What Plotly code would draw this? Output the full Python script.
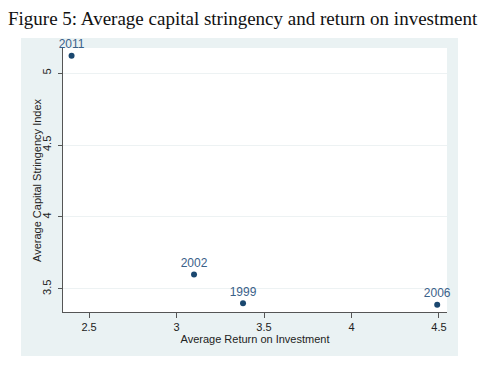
import plotly.graph_objects as go

years = ["2011", "2002", "1999", "2006"]
roi = [2.40, 3.10, 3.38, 4.49]
stringency = [5.12, 3.60, 3.40, 3.39]
x_ticks = [2.5, 3, 3.5, 4, 4.5]
y_ticks = [3.5, 4, 4.5, 5]

# browser default body margin offsets the figure by 8px
OFF = 8
W, H = 488 - OFF, 367 - OFF
L, R, T, B = 63 - OFF, W - (447 - OFF), 48 - OFF, H - (312 - OFF)
pw, ph = W - L - R, H - T - B

def fx(px):
    return (px - OFF - L) / pw

def fy(py):
    return (H - B - (py - OFF)) / ph

fig = go.Figure()
fig.add_trace(go.Scatter(
    x=roi, y=stringency, mode="markers+text", text=years,
    textposition="top center",
    marker=dict(color="#1a476f", size=6),
    textfont=dict(family="Liberation Sans", size=12, color="#3a6189"),
    cliponaxis=False, showlegend=False,
))

fig.add_shape(type="rect", xref="paper", yref="paper",
              x0=fx(21), x1=fx(458), y0=fy(356), y1=fy(38),
              fillcolor="#EAF2F3", line=dict(width=0), layer="below")
fig.add_shape(type="rect", xref="paper", yref="paper",
              x0=0, x1=1, y0=0, y1=1,
              fillcolor="white", line=dict(width=0), layer="below")

fig.add_annotation(text="Figure 5: Average capital stringency and return on investment",
                   xref="paper", yref="paper", x=fx(243), y=fy(18),
                   xanchor="center", yanchor="middle", showarrow=False,
                   font=dict(family="Liberation Serif", size=19, color="#111"))
fig.add_annotation(text="Average Capital Stringency Index",
                   xref="paper", yref="paper", x=fx(37), y=0.5,
                   xanchor="center", yanchor="middle", showarrow=False,
                   textangle=-90, font=dict(family="Liberation Sans", size=11, color="#222"))

fig.update_layout(
    width=W, height=H,
    margin=dict(l=L, r=R, t=T, b=B),
    paper_bgcolor="white", plot_bgcolor="white",
    font=dict(family="Liberation Sans", size=11, color="#222"),
)
fig.update_xaxes(
    range=[2.351, 4.546], tickvals=x_ticks, ticktext=[str(v) for v in x_ticks],
    showgrid=False, zeroline=False, showline=True, linecolor="#555", linewidth=1,
    ticks="outside", ticklen=5, tickcolor="#555",
    title=dict(text="Average Return on Investment", standoff=0, font=dict(size=11)),
)
fig.update_yaxes(
    range=[3.34, 5.174], tickvals=y_ticks, ticktext=[str(v) for v in y_ticks],
    tickangle=-90, showgrid=True, gridcolor="#EDF2F3", zeroline=False,
    showline=True, linecolor="#555", linewidth=1,
    ticks="outside", ticklen=4, tickcolor="#555", ticklabelstandoff=3,
)

fig.write_html("out.html")
